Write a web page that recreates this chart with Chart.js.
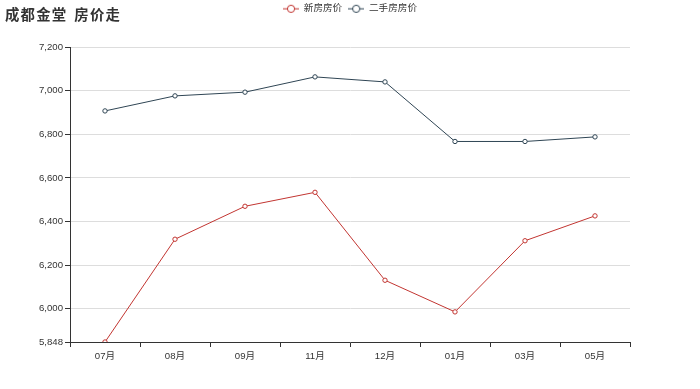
<!DOCTYPE html>
<html>
<head>
<meta charset="utf-8">
<script src="https://cdn.jsdelivr.net/npm/chart.js@4/dist/chart.umd.min.js"></script>
<style>
  html, body { margin: 0; padding: 0; background: #fff; }
  #wrap { position: relative; width: 700px; height: 389px; }
  #title {
    position: absolute; left: 5px; top: 3px;
    font: bold 14.4px "Noto Sans CJK SC", sans-serif;
    letter-spacing: 1.2px; word-spacing: 2.5px; color: #333;
  }
</style>
</head>
<body>
<div id="wrap">
  <canvas id="chart" width="700" height="389"></canvas>
  <div id="title">成都金堂 房价走</div>
</div>
<script>
// Chart data
const months = ['07月', '08月', '09月', '11月', '12月', '01月', '03月', '05月'];
const newHomePrices = [5848, 6319, 6470, 6534, 6131, 5986, 6312, 6426];
const resalePrices = [6907, 6976, 6993, 7063, 7040, 6767, 6767, 6788];
const yTicks = [5848, 6000, 6200, 6400, 6600, 6800, 7000, 7200];

const FONT = '"Liberation Sans", "Noto Sans CJK SC", sans-serif';
const RED = '#c23531';
const SLATE = '#2f4554';

// legend icon: short line with a hollow circle in the middle
function legendIcon(color) {
    const c = document.createElement('canvas');
    c.width = 16;
    c.height = 10;
    const g = c.getContext('2d');
    g.strokeStyle = color;
    g.lineWidth = 1;
    g.beginPath();
    g.moveTo(0, 5);
    g.lineTo(16, 5);
    g.stroke();
    g.beginPath();
    g.arc(8, 5, 3.6, 0, Math.PI * 2);
    g.fillStyle = '#fff';
    g.fill();
    g.stroke();
    return c;
}

const icons = [legendIcon(RED), legendIcon(SLATE)];

const legendHeight = {
    id: 'legendHeight',
    beforeInit(chart) {
        const fit = chart.legend.fit;
        chart.legend.fit = function () {
            fit.call(this);
            this.height = 49;
        };
    }
};

new Chart(document.getElementById('chart'), {
    type: 'line',
    data: {
        labels: months,
        datasets: [{
            label: '新房房价',
            data: newHomePrices,
            borderColor: RED,
            backgroundColor: '#fff',
            pointBackgroundColor: '#fff',
            pointBorderColor: RED,
            borderWidth: 1,
            pointRadius: 2.2,
            pointBorderWidth: 1,
            tension: 0
        }, {
            label: '二手房房价',
            data: resalePrices,
            borderColor: SLATE,
            backgroundColor: '#fff',
            pointBackgroundColor: '#fff',
            pointBorderColor: SLATE,
            borderWidth: 1,
            pointRadius: 2.2,
            pointBorderWidth: 1,
            tension: 0
        }]
    },
    plugins: [legendHeight],
    options: {
        responsive: false,
        animation: false,
        layout: {
            padding: { top: -2, left: 0, right: 0, bottom: 0 }
        },
        scales: {
            x: {
                offset: true,
                grid: {
                    offset: true,
                    drawOnChartArea: false,
                    drawTicks: true,
                    tickLength: 5,
                    tickColor: '#333'
                },
                border: { display: true, color: '#333', width: 1 },
                ticks: {
                    color: '#333',
                    padding: 4,
                    maxRotation: 0,
                    font: { family: FONT, size: 9.6 }
                },
                afterFit(scale) { scale.height = 47; }
            },
            y: {
                min: 5848,
                max: 7200,
                afterBuildTicks(scale) {
                    scale.ticks = yTicks.map(v => ({ value: v }));
                },
                grid: {
                    color: '#ddd',
                    tickColor: '#333',
                    tickLength: 5
                },
                border: { display: true, color: '#333', width: 1 },
                ticks: {
                    color: '#333',
                    padding: 2,
                    font: { family: FONT, size: 9.6 },
                    callback: v => v.toLocaleString('en-US')
                },
                afterFit(scale) { scale.width = 70; }
            },
            // empty right-hand axis, only reserves the right margin
            yRight: {
                position: 'right',
                display: true,
                grid: { display: false },
                border: { display: false },
                ticks: { display: false },
                afterFit(scale) { scale.width = 70; }
            }
        },
        plugins: {
            title: { display: false },
            tooltip: { enabled: false },
            legend: {
                display: true,
                position: 'top',
                align: 'center',
                labels: {
                    usePointStyle: true,
                    pointStyleWidth: 16,
                    padding: 6,
                    color: '#333',
                    font: { family: FONT, size: 9.6 },
                    generateLabels(chart) {
                        const items = Chart.defaults.plugins.legend.labels.generateLabels(chart);
                        items.forEach((it, i) => { it.pointStyle = icons[i]; });
                        return items;
                    }
                }
            }
        }
    }
});
</script>
</body>
</html>
